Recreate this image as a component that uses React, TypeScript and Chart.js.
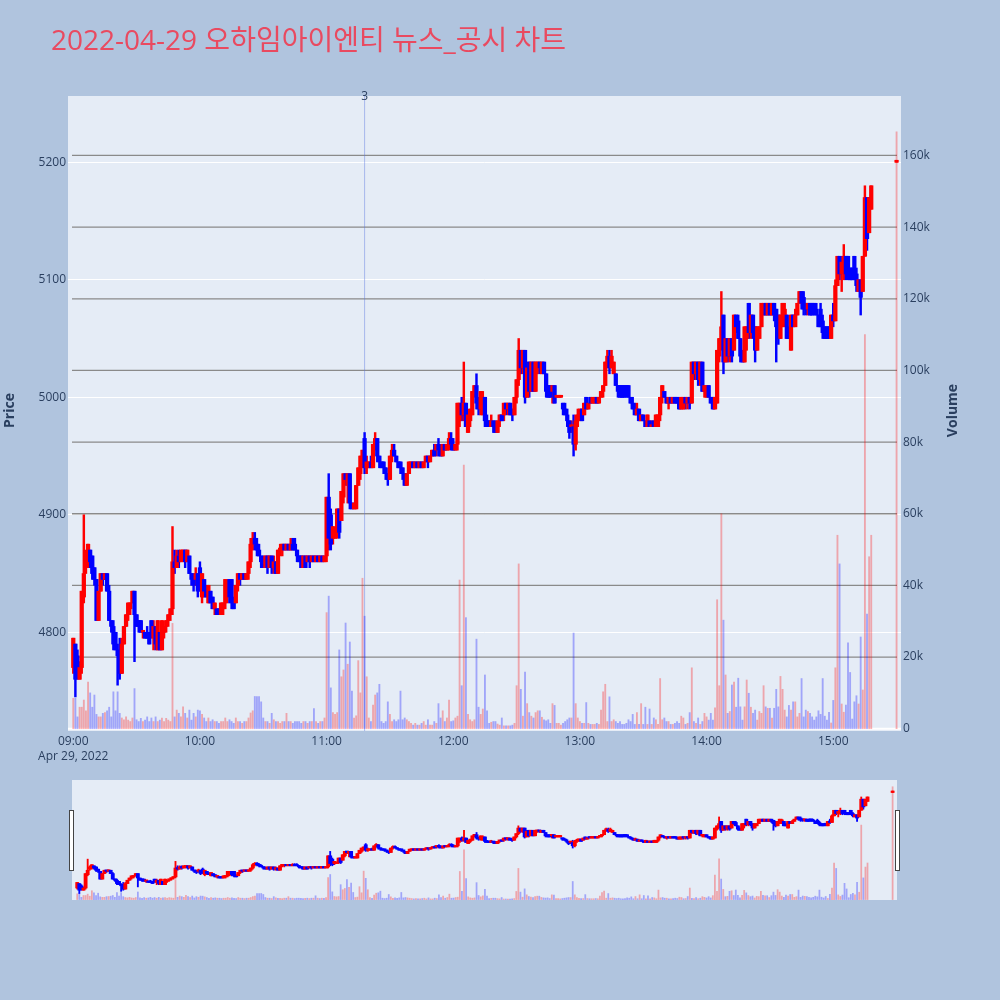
import React, { useEffect, useRef } from 'react';
import { Chart, registerables } from 'chart.js';

Chart.register(...registerables);

const FONT = "'Open Sans', verdana, arial, sans-serif";
const TITLE_FONT = "'Open Sans', 'Noto Sans CJK KR', sans-serif";
const TEXT = '#2a3f5f';
const TITLE_COLOR = '#e94a60';
const UP = '#ff0000';
const DOWN = '#0000ff';
const UP_VOL = 'rgba(255,0,0,0.3)';
const DOWN_VOL = 'rgba(0,0,255,0.3)';

const chartTitle = '2022-04-29 오하임아이엔티 뉴스_공시 차트';
const dateLabel = 'Apr 29, 2022';
const timeTicks = [0, 60, 120, 180, 240, 300, 360];
const timeTickLabels = ['09:00', '10:00', '11:00', '12:00', '13:00', '14:00', '15:00'];
const priceTicks = [4800, 4900, 5000, 5100, 5200];
const volumeTicks = [0, 20000, 40000, 60000, 80000, 100000, 120000, 140000, 160000];
const newsMinutes = [138];
const newsLabels = ['3'];
const xRange = [-2.5, 392.1];
const priceRange = [4716, 5256.4];
const volumeRange = [-640, 176600];

// minutes after 09:00
const minutes = [
  0, 1, 2, 3, 4, 5, 6, 7, 8, 9, 10, 11, 12, 13, 14, 15, 16, 17, 18, 19,
  20, 21, 22, 23, 24, 25, 26, 27, 28, 29, 30, 31, 32, 33, 34, 35, 36, 37, 38, 39,
  40, 41, 42, 43, 44, 45, 46, 47, 48, 49, 50, 51, 52, 53, 54, 55, 56, 57, 58, 59,
  60, 61, 62, 63, 64, 65, 66, 67, 68, 69, 70, 71, 72, 73, 74, 75, 76, 77, 78, 79,
  80, 81, 82, 83, 84, 85, 86, 87, 88, 89, 90, 91, 92, 93, 94, 95, 96, 97, 98, 99,
  100, 101, 102, 103, 104, 105, 106, 107, 108, 109, 110, 111, 112, 113, 114, 115, 116, 117, 118, 119,
  120, 121, 122, 123, 124, 125, 126, 127, 128, 129, 130, 131, 132, 133, 134, 135, 136, 137, 138, 139,
  140, 141, 142, 143, 144, 145, 146, 147, 148, 149, 150, 151, 152, 153, 154, 155, 156, 157, 158, 159,
  160, 161, 162, 163, 164, 165, 166, 167, 168, 169, 170, 171, 172, 173, 174, 175, 176, 177, 178, 179,
  180, 181, 182, 183, 184, 185, 186, 187, 188, 189, 190, 191, 192, 193, 194, 195, 196, 197, 198, 199,
  200, 201, 202, 203, 204, 205, 206, 207, 208, 209, 210, 211, 212, 213, 214, 215, 216, 217, 218, 219,
  220, 221, 222, 223, 224, 225, 226, 227, 228, 229, 230, 231, 232, 233, 234, 235, 236, 237, 238, 239,
  240, 241, 242, 243, 244, 245, 246, 247, 248, 249, 250, 251, 252, 253, 254, 255, 256, 257, 258, 259,
  260, 261, 262, 263, 264, 265, 266, 267, 268, 269, 270, 271, 272, 273, 274, 275, 276, 277, 278, 279,
  280, 281, 282, 283, 284, 285, 286, 287, 288, 289, 290, 291, 292, 293, 294, 295, 296, 297, 298, 299,
  300, 301, 302, 303, 304, 305, 306, 307, 308, 309, 310, 311, 312, 313, 314, 315, 316, 317, 318, 319,
  320, 321, 322, 323, 324, 325, 326, 327, 328, 329, 330, 331, 332, 333, 334, 335, 336, 337, 338, 339,
  340, 341, 342, 343, 344, 345, 346, 347, 348, 349, 350, 351, 352, 353, 354, 355, 356, 357, 358, 359,
  360, 361, 362, 363, 364, 365, 366, 367, 368, 369, 370, 371, 372, 373, 374, 375, 376, 377, 378, 390,
];

const opens = [
  4770, 4790, 4780, 4760, 4770, 4830, 4855, 4860, 4870, 4865, 4855, 4845, 4810, 4835, 4850, 4845, 4850, 4835, 4810, 4805,
  4800, 4785, 4780, 4765, 4790, 4805, 4815, 4820, 4825, 4835, 4815, 4810, 4810, 4800, 4800, 4800, 4800, 4810, 4795, 4805,
  4785, 4800, 4785, 4800, 4805, 4810, 4815, 4820, 4860, 4855, 4865, 4860, 4865, 4870, 4860, 4865, 4850, 4845, 4845, 4850,
  4855, 4830, 4845, 4835, 4825, 4835, 4830, 4820, 4820, 4820, 4815, 4820, 4825, 4830, 4845, 4845, 4825, 4825, 4840, 4850,
  4845, 4850, 4845, 4850, 4860, 4875, 4880, 4875, 4870, 4865, 4860, 4855, 4865, 4855, 4865, 4855, 4860, 4850, 4870, 4870,
  4875, 4870, 4875, 4870, 4875, 4875, 4870, 4865, 4865, 4855, 4865, 4860, 4865, 4860, 4865, 4860, 4865, 4860, 4865, 4860,
  4865, 4915, 4900, 4880, 4880, 4885, 4905, 4895, 4915, 4935, 4925, 4935, 4910, 4905, 4905, 4925, 4935, 4945, 4965, 4940,
  4940, 4945, 4940, 4960, 4965, 4950, 4945, 4945, 4940, 4935, 4930, 4950, 4955, 4950, 4945, 4945, 4940, 4935, 4925, 4935,
  4940, 4945, 4940, 4945, 4940, 4945, 4940, 4945, 4950, 4945, 4950, 4955, 4955, 4960, 4955, 4950, 4960, 4955, 4960, 4965,
  4960, 4955, 4960, 4980, 4995, 4985, 4995, 4970, 4980, 4985, 5005, 5010, 4995, 4990, 4985, 5000, 4980, 4980, 4975, 4980,
  4975, 4970, 4980, 4985, 4985, 4995, 4990, 4995, 4990, 4985, 5000, 5015, 5040, 5025, 5040, 5000, 5030, 5005, 5030, 5005,
  5025, 5030, 5020, 5030, 5020, 5010, 5010, 5005, 5010, 5000, 5000, 5000, 4995, 4990, 4985, 4980, 4975, 4975, 4960, 4980,
  4985, 4990, 4985, 5000, 4990, 5000, 4995, 4995, 5000, 4995, 5000, 5005, 5010, 5030, 5035, 5025, 5020, 5020, 5010, 5010,
  5010, 5010, 5010, 5010, 5000, 4995, 4990, 4985, 4990, 4980, 4985, 4980, 4975, 4980, 4975, 4980, 4975, 4975, 4985, 5000,
  5005, 5000, 4995, 5000, 4995, 5000, 5000, 4995, 4990, 4990, 5000, 4995, 5000, 4995, 5030, 5020, 5030, 5015, 5030, 5005,
  5000, 5010, 5000, 5000, 4990, 4995, 5035, 5050, 5070, 5030, 5050, 5035, 5050, 5040, 5070, 5065, 5050, 5040, 5030, 5050,
  5080, 5055, 5070, 5060, 5040, 5050, 5060, 5070, 5080, 5070, 5080, 5070, 5080, 5075, 5070, 5050, 5060, 5070, 5070, 5055,
  5040, 5070, 5060, 5070, 5080, 5090, 5085, 5080, 5075, 5080, 5080, 5080, 5075, 5070, 5075, 5065, 5060, 5060, 5060, 5050,
  5070, 5065, 5095, 5120, 5105, 5110, 5120, 5120, 5110, 5110, 5120, 5105, 5090, 5100, 5090, 5120, 5170, 5140, 5160, 5200,
];

const highs = [
  4795, 4790, 4785, 4775, 4835, 4900, 4870, 4875, 4870, 4865, 4855, 4845, 4835, 4850, 4850, 4850, 4850, 4840, 4810, 4810,
  4800, 4790, 4795, 4795, 4805, 4815, 4825, 4825, 4835, 4835, 4815, 4810, 4810, 4800, 4800, 4805, 4800, 4810, 4810, 4805,
  4810, 4800, 4810, 4805, 4810, 4815, 4820, 4890, 4870, 4870, 4870, 4870, 4870, 4870, 4870, 4865, 4850, 4850, 4855, 4850,
  4860, 4850, 4845, 4840, 4840, 4835, 4830, 4825, 4820, 4820, 4825, 4825, 4845, 4845, 4845, 4845, 4830, 4840, 4850, 4850,
  4850, 4850, 4850, 4860, 4880, 4885, 4885, 4880, 4875, 4865, 4865, 4865, 4865, 4865, 4865, 4865, 4860, 4870, 4875, 4875,
  4875, 4875, 4875, 4880, 4880, 4880, 4870, 4865, 4865, 4865, 4865, 4865, 4865, 4865, 4865, 4865, 4865, 4865, 4865, 4865,
  4915, 4935, 4905, 4890, 4885, 4905, 4905, 4920, 4935, 4935, 4935, 4935, 4910, 4910, 4925, 4940, 4950, 4955, 4970, 4950,
  4945, 4950, 4960, 4970, 4965, 4950, 4945, 4945, 4940, 4935, 4950, 4960, 4960, 4950, 4945, 4945, 4940, 4935, 4935, 4945,
  4945, 4945, 4945, 4945, 4945, 4945, 4945, 4950, 4950, 4950, 4955, 4960, 4960, 4965, 4960, 4960, 4960, 4960, 4970, 4970,
  4965, 4960, 4995, 4995, 5000, 5030, 4995, 4985, 4990, 5005, 5010, 5020, 5000, 5005, 5005, 5000, 4985, 4980, 4985, 4980,
  4980, 4980, 4985, 4985, 4995, 4995, 4995, 4995, 4990, 5000, 5015, 5050, 5040, 5040, 5040, 5030, 5030, 5030, 5030, 5030,
  5030, 5030, 5030, 5030, 5020, 5010, 5010, 5010, 5010, 5000, 5000, 5000, 4995, 4995, 4990, 4980, 4980, 4985, 4985, 4990,
  4990, 4990, 4995, 5000, 4995, 5000, 5000, 5000, 5000, 5000, 5005, 5010, 5030, 5040, 5040, 5040, 5030, 5020, 5010, 5010,
  5010, 5010, 5010, 5010, 5000, 5000, 4995, 4995, 4990, 4985, 4985, 4980, 4985, 4980, 4980, 4980, 4985, 4985, 5000, 5010,
  5005, 5000, 5000, 5000, 5000, 5000, 5000, 5000, 5000, 5000, 5000, 5000, 5000, 5030, 5030, 5030, 5030, 5030, 5030, 5010,
  5010, 5010, 5000, 5000, 5000, 5040, 5050, 5090, 5070, 5050, 5050, 5050, 5050, 5070, 5070, 5070, 5050, 5040, 5060, 5060,
  5080, 5070, 5070, 5060, 5060, 5060, 5080, 5080, 5080, 5080, 5080, 5080, 5080, 5075, 5070, 5070, 5080, 5080, 5070, 5060,
  5070, 5070, 5075, 5080, 5090, 5090, 5090, 5080, 5080, 5080, 5080, 5080, 5080, 5070, 5080, 5070, 5060, 5060, 5060, 5070,
  5080, 5100, 5120, 5120, 5120, 5130, 5120, 5120, 5110, 5110, 5120, 5110, 5100, 5100, 5120, 5180, 5170, 5170, 5180, 5200,
];

const lows = [
  4765, 4745, 4760, 4760, 4765, 4825, 4850, 4855, 4855, 4845, 4840, 4810, 4810, 4835, 4840, 4845, 4835, 4810, 4800, 4785,
  4785, 4755, 4760, 4765, 4790, 4805, 4810, 4815, 4825, 4775, 4805, 4800, 4800, 4795, 4795, 4795, 4790, 4795, 4785, 4785,
  4785, 4785, 4785, 4795, 4800, 4805, 4810, 4815, 4850, 4855, 4855, 4860, 4860, 4855, 4860, 4850, 4840, 4835, 4840, 4830,
  4835, 4825, 4830, 4830, 4825, 4825, 4820, 4815, 4815, 4815, 4815, 4815, 4820, 4825, 4825, 4820, 4820, 4825, 4835, 4840,
  4845, 4845, 4845, 4845, 4855, 4870, 4870, 4865, 4865, 4855, 4855, 4855, 4850, 4855, 4850, 4850, 4850, 4850, 4865, 4865,
  4870, 4870, 4870, 4870, 4870, 4870, 4860, 4860, 4855, 4855, 4855, 4860, 4855, 4860, 4860, 4860, 4860, 4860, 4860, 4860,
  4860, 4870, 4870, 4875, 4880, 4880, 4880, 4895, 4910, 4925, 4910, 4905, 4905, 4905, 4905, 4925, 4930, 4940, 4935, 4935,
  4940, 4940, 4940, 4955, 4945, 4940, 4940, 4935, 4930, 4925, 4930, 4945, 4950, 4945, 4940, 4935, 4930, 4925, 4925, 4935,
  4940, 4940, 4940, 4940, 4940, 4940, 4940, 4945, 4940, 4945, 4950, 4950, 4950, 4950, 4950, 4950, 4955, 4955, 4955, 4955,
  4955, 4955, 4955, 4975, 4980, 4980, 4975, 4970, 4975, 4985, 5000, 4990, 4985, 4985, 4985, 4975, 4975, 4975, 4975, 4970,
  4970, 4970, 4975, 4980, 4980, 4985, 4985, 4985, 4980, 4985, 4995, 5010, 5020, 5020, 4995, 5000, 5000, 5005, 5005, 5005,
  5020, 5020, 5020, 5020, 5000, 5000, 5000, 4995, 4995, 5000, 5000, 5000, 4985, 4985, 4975, 4965, 4970, 4950, 4955, 4975,
  4980, 4980, 4985, 4990, 4990, 4995, 4995, 4995, 4995, 4995, 5000, 5000, 5010, 5025, 5020, 5025, 5020, 5010, 5000, 5000,
  5000, 5000, 5000, 5000, 4995, 4990, 4985, 4985, 4980, 4980, 4980, 4975, 4975, 4975, 4975, 4975, 4975, 4975, 4980, 4995,
  5000, 4995, 4990, 4995, 4995, 4995, 4995, 4990, 4990, 4990, 4990, 4990, 4990, 4995, 5015, 5015, 5010, 5010, 5005, 5000,
  5000, 5000, 4995, 4990, 4990, 4995, 5030, 5040, 5020, 5030, 5030, 5030, 5030, 5040, 5055, 5050, 5030, 5030, 5030, 5040,
  5050, 5050, 5050, 5030, 5040, 5050, 5060, 5070, 5070, 5070, 5070, 5070, 5065, 5030, 5045, 5050, 5060, 5060, 5050, 5050,
  5040, 5060, 5060, 5070, 5080, 5075, 5070, 5070, 5070, 5070, 5070, 5070, 5070, 5060, 5060, 5050, 5050, 5050, 5050, 5050,
  5060, 5065, 5095, 5100, 5090, 5100, 5100, 5100, 5100, 5100, 5100, 5090, 5090, 5070, 5090, 5120, 5125, 5140, 5160, 5200,
];

const closes = [
  4795, 4760, 4765, 4770, 4835, 4850, 4865, 4875, 4860, 4850, 4845, 4810, 4835, 4850, 4845, 4850, 4835, 4810, 4805, 4790,
  4785, 4780, 4765, 4790, 4805, 4815, 4825, 4825, 4835, 4815, 4805, 4805, 4800, 4800, 4795, 4795, 4790, 4800, 4805, 4790,
  4810, 4785, 4810, 4805, 4810, 4815, 4820, 4860, 4855, 4865, 4860, 4870, 4870, 4860, 4870, 4850, 4845, 4840, 4850, 4835,
  4840, 4850, 4835, 4830, 4840, 4825, 4820, 4825, 4815, 4815, 4825, 4825, 4845, 4840, 4830, 4825, 4820, 4840, 4850, 4845,
  4850, 4845, 4850, 4860, 4875, 4880, 4875, 4870, 4865, 4860, 4855, 4865, 4855, 4865, 4855, 4860, 4850, 4870, 4870, 4875,
  4870, 4875, 4870, 4875, 4870, 4870, 4865, 4860, 4855, 4865, 4855, 4865, 4860, 4865, 4860, 4865, 4860, 4865, 4860, 4865,
  4915, 4880, 4875, 4890, 4885, 4905, 4885, 4920, 4935, 4930, 4935, 4910, 4905, 4910, 4925, 4940, 4950, 4955, 4940, 4945,
  4945, 4940, 4960, 4965, 4950, 4945, 4940, 4940, 4935, 4930, 4950, 4955, 4950, 4945, 4940, 4940, 4935, 4925, 4935, 4945,
  4945, 4940, 4945, 4940, 4945, 4940, 4945, 4950, 4945, 4950, 4955, 4950, 4960, 4955, 4950, 4960, 4955, 4960, 4965, 4960,
  4955, 4960, 4995, 4995, 4985, 4995, 4975, 4985, 4990, 5005, 5010, 4995, 4990, 5005, 5000, 4980, 4975, 4975, 4980, 4975,
  4970, 4980, 4985, 4980, 4995, 4990, 4995, 4985, 4985, 5000, 5015, 5040, 5025, 5040, 5000, 5025, 5005, 5030, 5005, 5030,
  5030, 5025, 5030, 5020, 5005, 5000, 5000, 5010, 4995, 5000, 5000, 5000, 4990, 4985, 4980, 4970, 4975, 4960, 4980, 4985,
  4990, 4980, 4995, 4990, 4995, 4995, 5000, 5000, 4995, 5000, 5005, 5010, 5030, 5035, 5025, 5035, 5030, 5010, 5005, 5000,
  5000, 5000, 5005, 5000, 4995, 4990, 4985, 4990, 4980, 4985, 4980, 4975, 4985, 4975, 4975, 4975, 4985, 4985, 5000, 5010,
  5000, 4995, 5000, 4995, 5000, 4995, 4995, 4990, 5000, 5000, 4995, 5000, 4995, 5030, 5020, 5030, 5015, 5030, 5005, 5010,
  5010, 5000, 4995, 4990, 5000, 5040, 5050, 5060, 5030, 5050, 5035, 5050, 5035, 5070, 5060, 5050, 5035, 5030, 5060, 5060,
  5055, 5070, 5055, 5040, 5060, 5060, 5080, 5080, 5070, 5080, 5070, 5080, 5070, 5060, 5050, 5070, 5080, 5075, 5050, 5050,
  5070, 5060, 5070, 5080, 5090, 5080, 5075, 5075, 5080, 5070, 5070, 5075, 5070, 5060, 5060, 5055, 5050, 5050, 5055, 5070,
  5065, 5095, 5120, 5105, 5115, 5120, 5105, 5105, 5100, 5100, 5105, 5095, 5100, 5085, 5120, 5170, 5135, 5170, 5180, 5200,
];

const volumes = [
  8500, 8500, 3300, 6000, 6000, 8000, 5000, 13000, 10000, 6000, 9400, 4000, 3300, 3300, 4300, 4500, 5000, 6000, 3300, 10300,
  5000, 10300, 4300, 3000, 2500, 3300, 2400, 2000, 3000, 11200, 2500, 2000, 2900, 2000, 2400, 3300, 2000, 3000, 2000, 3300,
  2000, 2400, 3000, 2000, 2900, 2400, 2000, 29400, 3300, 5200, 4300, 3300, 6100, 4300, 3000, 5200, 2400, 4300, 3300, 5200,
  5000, 4000, 3000, 2000, 3000, 2000, 2500, 2000, 2000, 1500, 2000, 2000, 3000, 2000, 2500, 2000, 1500, 3000, 2000, 2000,
  1500, 2000, 2000, 3000, 4400, 5000, 9000, 9000, 9000, 7500, 3000, 2000, 2000, 1500, 4300, 2500, 2000, 2000, 1500, 2000,
  2000, 4300, 2000, 2000, 1500, 2000, 2000, 2000, 1500, 2000, 2000, 1500, 2000, 2000, 5600, 2000, 1500, 2000, 2000, 3000,
  32400, 37000, 11400, 4500, 4000, 4500, 22000, 14500, 16400, 29500, 18000, 24200, 10500, 3000, 3600, 19000, 10000, 42000, 31400, 14500,
  3000, 2000, 6600, 9400, 10000, 12400, 2000, 1500, 2000, 7500, 4000, 2000, 2500, 2000, 2500, 10500, 2500, 3000, 2500, 2000,
  1500, 1000, 1500, 1000, 1000, 1500, 2000, 1000, 2500, 1000, 1000, 2000, 1500, 7000, 3000, 5000, 2000, 3000, 8000, 2000,
  2200, 3000, 3500, 41500, 12000, 73600, 31000, 4000, 2500, 2000, 2500, 25000, 6000, 4000, 5500, 15000, 5000, 1500, 1800, 2000,
  2000, 1300, 1000, 3000, 800, 800, 800, 800, 1000, 1500, 12000, 46000, 11000, 3500, 15800, 7000, 4500, 3500, 3000, 4500,
  5000, 5000, 3200, 2500, 2200, 2500, 1500, 7000, 6500, 1500, 1500, 1000, 1500, 2000, 2500, 3000, 3000, 26700, 7000, 3000,
  2000, 1500, 1500, 7300, 1500, 1200, 1200, 1200, 1500, 1200, 5200, 10300, 12400, 2000, 8900, 2000, 2500, 2000, 1500, 2000,
  1200, 1200, 1500, 2500, 2000, 4000, 1200, 4500, 1200, 7000, 1200, 6000, 1200, 5500, 1200, 3000, 2500, 1200, 14000, 2500,
  3000, 2000, 2000, 1200, 1200, 1500, 2000, 1500, 3500, 3000, 1200, 1500, 4500, 17000, 2000, 1500, 3000, 1200, 2000, 4300,
  3300, 2400, 4300, 2400, 5800, 36000, 12000, 60000, 30300, 15000, 4300, 4800, 12200, 13000, 6000, 14100, 6100, 2400, 6100, 13600,
  9900, 6000, 4300, 5200, 2400, 4800, 4300, 12000, 6100, 5700, 5700, 3000, 5700, 11000, 6100, 14600, 11000, 5200, 3300, 6500,
  5200, 7500, 7500, 3300, 4300, 14000, 3300, 5200, 4800, 4300, 3300, 2400, 3300, 5000, 4000, 14000, 3500, 2400, 4600, 1600,
  7900, 17000, 54000, 46000, 6900, 4600, 6600, 24000, 15700, 2700, 7500, 9200, 6900, 25600, 10800, 110000, 32000, 48000, 54000, 166600,
];

function makeDatasets(bodyW: number, wickW: number, volW: number, minLen: number) {
  const candleColors = opens.map((o, i) => (closes[i] >= o ? UP : DOWN));
  const volColors = opens.map((o, i) => (closes[i] >= o ? UP_VOL : DOWN_VOL));
  return [
    {
      label: 'Volume',
      data: minutes.map((m, i) => ({ x: m, y: volumes[i] })),
      yAxisID: 'y1',
      backgroundColor: volColors,
      barThickness: volW,
      grouped: false,
      order: 3,
    },
    {
      label: 'Wick',
      data: minutes.map((m, i) => ({ x: m, y: [lows[i], highs[i]] })),
      yAxisID: 'y',
      backgroundColor: candleColors,
      barThickness: wickW,
      minBarLength: minLen,
      grouped: false,
      order: 2,
    },
    {
      label: 'Body',
      data: minutes.map((m, i) => ({ x: m, y: [opens[i], closes[i]] })),
      yAxisID: 'y',
      backgroundColor: candleColors,
      barThickness: bodyW,
      minBarLength: minLen,
      grouped: false,
      order: 1,
    },
  ];
}

const bgPlugin = {
  id: 'plotBg',
  beforeDraw(chart: any) {
    const { ctx, chartArea: a } = chart;
    ctx.save();
    ctx.fillStyle = '#e5ecf6';
    ctx.fillRect(a.left, a.top, a.right - a.left, a.bottom - a.top);
    ctx.restore();
  },
};

const mainDeco = {
  id: 'mainDeco',
  beforeDatasetsDraw(chart: any) {
    const { ctx, chartArea: a, scales } = chart;
    const y1 = scales.y1;
    const x = scales.x;
    ctx.save();
    // volume grid lines
    ctx.strokeStyle = '#8a8a8a';
    ctx.lineWidth = 1.3;
    for (const v of volumeTicks) {
      if (v === 0) continue;
      const py = y1.getPixelForValue(v);
      ctx.beginPath();
      ctx.moveTo(a.left + 4, py);
      ctx.lineTo(a.right - 4, py);
      ctx.stroke();
    }
    // zero line of volume axis
    ctx.strokeStyle = '#ffffff';
    ctx.lineWidth = 2;
    const zy = y1.getPixelForValue(0);
    ctx.beginPath();
    ctx.moveTo(a.left, zy);
    ctx.lineTo(a.right, zy);
    ctx.stroke();
    // news markers
    ctx.strokeStyle = 'rgba(90,120,225,0.45)';
    ctx.lineWidth = 1;
    for (const m of newsMinutes) {
      const px = x.getPixelForValue(m);
      ctx.beginPath();
      ctx.moveTo(px, a.top);
      ctx.lineTo(px, a.bottom);
      ctx.stroke();
    }
    ctx.restore();
  },
  afterDraw(chart: any) {
    const { ctx, chartArea: a, scales } = chart;
    ctx.save();
    ctx.fillStyle = TEXT;
    ctx.font = `12px ${FONT}`;
    ctx.textAlign = 'center';
    ctx.textBaseline = 'middle';
    newsMinutes.forEach((m, i) => {
      ctx.fillText(newsLabels[i], scales.x.getPixelForValue(m), a.top + 1);
    });
    ctx.font = `bold 14px ${FONT}`;
    const midY = (a.top + a.bottom) / 2 - 3;
    ctx.translate(10, midY);
    ctx.rotate(-Math.PI / 2);
    ctx.fillText('Price', 0, 0);
    ctx.restore();
    ctx.save();
    ctx.fillStyle = TEXT;
    ctx.font = `bold 14px ${FONT}`;
    ctx.textAlign = 'center';
    ctx.textBaseline = 'middle';
    ctx.translate(953, midY);
    ctx.rotate(-Math.PI / 2);
    ctx.fillText('Volume', 0, 0);
    ctx.restore();
  },
};

export default function App() {
  const mainRef = useRef<HTMLCanvasElement>(null);
  const sliderRef = useRef<HTMLCanvasElement>(null);

  useEffect(() => {
    const tickFont = { family: FONT, size: 12, lineHeight: 1.25 };
    const main = new Chart(mainRef.current as HTMLCanvasElement, {
      type: 'bar',
      data: { datasets: makeDatasets(3.6, 1.8, 1.2, 2) as any },
      options: {
        responsive: false,
        animation: false,
        events: [],
        layout: { padding: { top: 96, left: 0, right: 0, bottom: 0 } },
        plugins: { legend: { display: false }, tooltip: { enabled: false }, title: { display: false } },
        scales: {
          x: {
            type: 'linear',
            min: xRange[0],
            max: xRange[1],
            offset: false,
            grid: { display: false, drawTicks: false },
            border: { display: false },
            afterBuildTicks: (s: any) => {
              s.ticks = timeTicks.map((v) => ({ value: v }));
            },
            afterFit: (s: any) => {
              s.height = 49;
            },
            ticks: {
              autoSkip: false,
              maxRotation: 0,
              minRotation: 0,
              padding: 3,
              color: TEXT,
              font: tickFont,
              callback: (v: any) => {
                const i = timeTicks.indexOf(Number(v));
                const lab = i >= 0 ? timeTickLabels[i] : '';
                return i === 0 ? [lab, dateLabel] : lab;
              },
            },
          },
          y: {
            type: 'linear',
            position: 'left',
            min: priceRange[0],
            max: priceRange[1],
            grid: { color: '#ffffff', lineWidth: 1, drawTicks: false },
            border: { display: false },
            afterBuildTicks: (s: any) => {
              s.ticks = priceTicks.map((v) => ({ value: v }));
            },
            afterFit: (s: any) => {
              s.width = 68;
            },
            ticks: { padding: 2, color: TEXT, font: tickFont, callback: (v: any) => String(v) },
          },
          y1: {
            type: 'linear',
            position: 'right',
            min: volumeRange[0],
            max: volumeRange[1],
            grid: { display: false, drawTicks: false },
            border: { display: false },
            afterBuildTicks: (s: any) => {
              s.ticks = volumeTicks.map((v) => ({ value: v }));
            },
            afterFit: (s: any) => {
              s.width = 99;
            },
            ticks: {
              padding: 2,
              color: TEXT,
              font: tickFont,
              callback: (v: any) => (Number(v) === 0 ? '0' : `${Number(v) / 1000}k`),
            },
          },
        },
      } as any,
      plugins: [bgPlugin, mainDeco],
    });

    const slider = new Chart(sliderRef.current as HTMLCanvasElement, {
      type: 'bar',
      data: { datasets: makeDatasets(3.2, 1.2, 1.1, 1.5) as any },
      options: {
        responsive: false,
        animation: false,
        events: [],
        layout: { padding: 0 },
        plugins: { legend: { display: false }, tooltip: { enabled: false } },
        scales: {
          x: { type: 'linear', display: false, min: xRange[0], max: xRange[1], offset: false },
          y: { type: 'linear', display: false, min: priceRange[0], max: priceRange[1] },
          y1: { type: 'linear', display: false, min: volumeRange[0], max: volumeRange[1] },
        },
      } as any,
      plugins: [bgPlugin],
    });

    return () => {
      main.destroy();
      slider.destroy();
    };
  }, []);

  const handle = (left: number): React.CSSProperties => ({
    position: 'absolute',
    left,
    top: 810,
    width: 3,
    height: 59,
    background: '#ffffff',
    border: '1px solid #444444',
  });

  return (
    <div
      style={{
        position: 'absolute',
        left: 0,
        top: 0,
        width: 1000,
        height: 1000,
        background: '#b0c4de',
        overflow: 'hidden',
      }}
    >
      <canvas
        ref={mainRef}
        width={1000}
        height={780}
        style={{ position: 'absolute', left: 0, top: 0, width: 1000, height: 780 }}
      />
      <canvas
        ref={sliderRef}
        width={825}
        height={120}
        style={{ position: 'absolute', left: 72, top: 780, width: 825, height: 120 }}
      />
      <div style={handle(69)} />
      <div style={handle(895)} />
      <div
        style={{
          position: 'absolute',
          left: 51,
          top: 25,
          fontFamily: TITLE_FONT,
          fontSize: 28,
          lineHeight: '28px',
          color: TITLE_COLOR,
          whiteSpace: 'nowrap',
        }}
      >
        {chartTitle}
      </div>
    </div>
  );
}
